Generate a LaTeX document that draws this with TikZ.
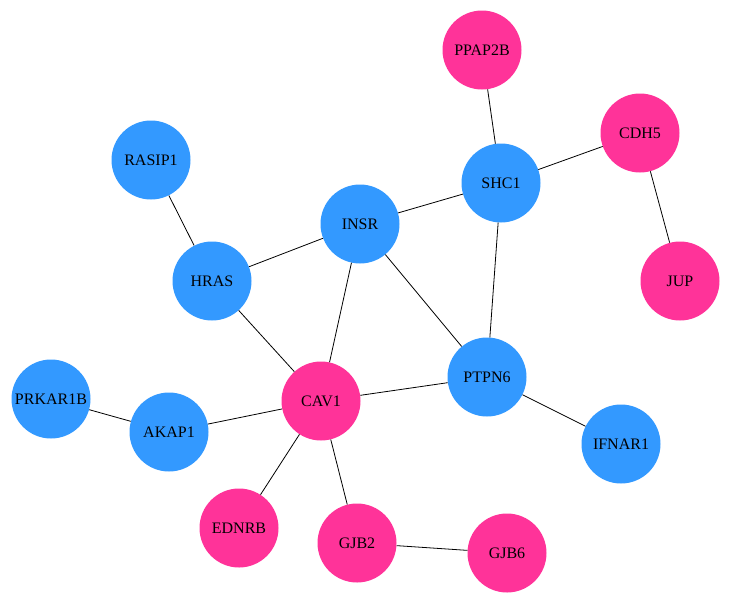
\documentclass[tikz,border=0pt]{standalone}
\usepackage{fontspec}
\setmainfont{Liberation Serif}

\begin{document}
\begin{tikzpicture}[x=1pt,y=-1pt,font=\fontsize{16}{16}\selectfont,
  gene/.style={circle,minimum size=79pt,inner sep=0pt,text=black},
  up/.style={gene,fill=pink},
  down/.style={gene,fill=blue},
  link/.style={black,line width=.8pt}]
\definecolor{pink}{HTML}{FF3399}\definecolor{blue}{HTML}{3399FF}
\useasboundingbox (0,0) rectangle (730,603);
% genes
\node[up] (ppap2b) at (482,50) {PPAP2B};
\node[up] (cdh5) at (640,133) {CDH5};
\node[down] (rasip1) at (151,160) {RASIP1};
\node[down] (shc1) at (501,183) {SHC1};
\node[down] (insr) at (360,224) {INSR};
\node[down] (hras) at (212,281) {HRAS};
\node[up] (jup) at (680,281) {JUP};
\node[down] (ptpn6) at (487,377) {PTPN6};
\node[up] (cav1) at (321,401) {CAV1};
\node[down] (prkar1b) at (51,399) {PRKAR1B};
\node[down] (akap1) at (169,432) {AKAP1};
\node[down] (ifnar1) at (621,444) {IFNAR1};
\node[up] (ednrb) at (239,528) {EDNRB};
\node[up] (gjb2) at (357,543) {GJB2};
\node[up] (gjb6) at (507,553) {GJB6};
% interactions
\draw[link] (ppap2b) -- (shc1);
\draw[link] (cdh5) -- (shc1);
\draw[link] (cdh5) -- (jup);
\draw[link] (rasip1) -- (hras);
\draw[link] (hras) -- (insr);
\draw[link] (insr) -- (shc1);
\draw[link] (hras) -- (cav1);
\draw[link] (insr) -- (cav1);
\draw[link] (insr) -- (ptpn6);
\draw[link] (shc1) -- (ptpn6);
\draw[link] (ptpn6) -- (cav1);
\draw[link] (ptpn6) -- (ifnar1);
\draw[link] (prkar1b) -- (akap1);
\draw[link] (akap1) -- (cav1);
\draw[link] (cav1) -- (ednrb);
\draw[link] (cav1) -- (gjb2);
\draw[link] (gjb2) -- (gjb6);
\end{tikzpicture}
\end{document}
